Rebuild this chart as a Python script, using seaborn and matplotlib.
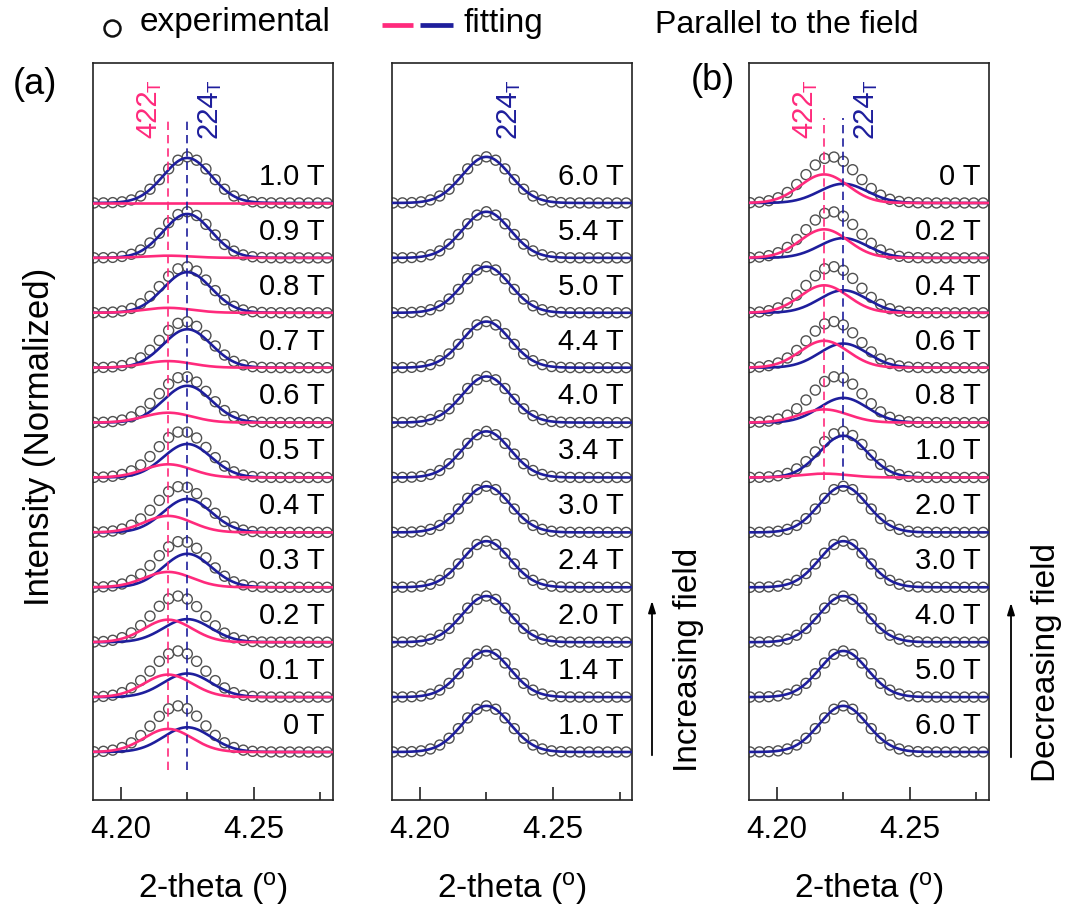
import numpy as np
import pandas as pd
import matplotlib
matplotlib.use('Agg')
import matplotlib.pyplot as plt
import seaborn as sns
from matplotlib.lines import Line2D

sns.set_style('ticks')
plt.rcParams['font.family'] = ['Liberation Sans', 'DejaVu Sans']
plt.rcParams['mathtext.default'] = 'regular'
plt.rcParams['text.color'] = 'black'
plt.rcParams['axes.labelcolor'] = 'black'
plt.rcParams['xtick.color'] = 'black'

# measured 2-theta positions (deg)
two_theta = [4.1900, 4.1935, 4.1970, 4.2005, 4.2040, 4.2075, 4.2110, 4.2145,
             4.2180, 4.2215, 4.2250, 4.2285, 4.2320, 4.2355, 4.2390, 4.2425,
             4.2460, 4.2495, 4.2530, 4.2565, 4.2600, 4.2635, 4.2670, 4.2705,
             4.2740, 4.2775]

# fitted peak parameters
peak_422 = 4.2178
peak_224 = 4.2250
peak_sigma = 0.0090
exp_peak = 0.84   # normalised height of the experimental profile

# panel (a) - increasing field, bottom -> top
fields_a = ['0 T', '0.1 T', '0.2 T', '0.3 T', '0.4 T', '0.5 T',
            '0.6 T', '0.7 T', '0.8 T', '0.9 T', '1.0 T']
amp422_a = [0.42, 0.41, 0.41, 0.28, 0.30, 0.24, 0.18, 0.12, 0.09, 0.04, 0.00]
amp224_a = [0.45, 0.43, 0.42, 0.61, 0.61, 0.61, 0.67, 0.70, 0.74, 0.80, 0.82]

# middle panel - increasing field, bottom -> top
fields_m = ['1.0 T', '1.4 T', '2.0 T', '2.4 T', '3.0 T', '3.4 T',
            '4.0 T', '4.4 T', '5.0 T', '5.4 T', '6.0 T']
amp422_m = [0.0, 0.0, 0.0, 0.0, 0.0, 0.0, 0.0, 0.0, 0.0, 0.0, 0.0]
amp224_m = [0.84, 0.84, 0.84, 0.84, 0.84, 0.84, 0.84, 0.84, 0.84, 0.84, 0.84]

# panel (b) - decreasing field, bottom -> top
fields_b = ['6.0 T', '5.0 T', '4.0 T', '3.0 T', '2.0 T', '1.0 T',
            '0.8 T', '0.6 T', '0.4 T', '0.2 T', '0 T']
amp422_b = [0.00, 0.00, 0.00, 0.00, 0.00, 0.07, 0.24, 0.49, 0.50, 0.52, 0.52]
amp224_b = [0.84, 0.84, 0.84, 0.84, 0.84, 0.76, 0.45, 0.44, 0.41, 0.36, 0.35]

PINK = '#ff2a7c'
BLUE = '#1e1e9c'
FS = 21


def gauss(x, amp, cen):
    return amp * np.exp(-0.5 * ((np.asarray(x) - cen) / peak_sigma) ** 2)


def hkl_label(ax, x, num, color, side):
    # rotated reflection label with a subscript T at its upper end
    t = ax.text(x, 11.18, num, rotation=90, ha=side, va='bottom',
                color=color, fontsize=FS)
    ax.annotate('T', xy=(1, 1), xycoords=t, xytext=(2, -1.5),
                textcoords='offset points', rotation=90, ha='right',
                va='bottom', color=color, fontsize=13.5)


def draw_panel(ax, fields, a422, a224, show_422, dash_bottom=None):
    xf = np.linspace(4.185, 4.285, 400)
    x_exp = np.array(two_theta)
    for i, lab in enumerate(fields):
        # experimental profile = normalised sum of both phases
        prof = gauss(x_exp, a422[i], peak_422) + gauss(x_exp, a224[i], peak_224)
        dense = gauss(xf, a422[i], peak_422) + gauss(xf, a224[i], peak_224)
        prof = prof / dense.max() * exp_peak
        sns.scatterplot(x=x_exp, y=prof + i, ax=ax, marker='o', s=52,
                        facecolors='none', edgecolor='#505050', linewidth=1.0,
                        zorder=2)
        sns.lineplot(x=xf, y=gauss(xf, a224[i], peak_224) + i, ax=ax,
                     color=BLUE, lw=1.9, estimator=None, zorder=3)
        if show_422[i]:
            sns.lineplot(x=xf, y=gauss(xf, a422[i], peak_422) + i, ax=ax,
                         color=PINK, lw=1.9, estimator=None, zorder=4)
        ax.text(4.2765, i + 0.33, lab, ha='right', va='baseline', fontsize=FS)

    if dash_bottom is not None:
        ax.plot([peak_422, peak_422], [dash_bottom, 11.55], color=PINK,
                lw=1.2, ls=(0, (5, 3)), zorder=5)
        ax.plot([peak_224, peak_224], [dash_bottom, 11.55], color=BLUE,
                lw=1.2, ls=(0, (5, 3)), zorder=5)
        hkl_label(ax, peak_422 - 0.0022, '422', PINK, 'right')
    hkl_label(ax, peak_224 + 0.0026, '224', BLUE, 'left')

    ax.set_xlim(4.1896, 4.2797)
    ax.set_ylim(-0.874, 12.55)
    ax.set_xticks([4.20, 4.25])
    ax.set_xticklabels(['4.20', '4.25'])
    ax.set_xticks([4.225, 4.275], minor=True)
    ax.set_yticks([])
    ax.tick_params(axis='x', which='major', direction='in', length=9.5,
                   width=1.2, labelsize=22.5, pad=11, color='#222222')
    ax.tick_params(axis='x', which='minor', direction='in', length=5.5,
                   width=1.2, color='#222222')
    for sp in ax.spines.values():
        sp.set_visible(True)
        sp.set_linewidth(1.2)
        sp.set_color('#222222')
    ax.set_xlabel(r'2-theta ($^o$)', fontsize=24, labelpad=18)
    ax.set_ylabel('')


fig = plt.figure(figsize=(10.7, 9.1), dpi=100)
ax_a = fig.add_axes([0.0869, 0.1209, 0.2243, 0.8099])
ax_m = fig.add_axes([0.3664, 0.1209, 0.2243, 0.8099])
ax_b = fig.add_axes([0.7000, 0.1209, 0.2243, 0.8099])

draw_panel(ax_a, fields_a, amp422_a, amp224_a, [True] * 11, dash_bottom=-0.33)
draw_panel(ax_m, fields_m, amp422_m, amp224_m, [False] * 11)
draw_panel(ax_b, fields_b, amp422_b, amp224_b, [i >= 5 for i in range(11)],
           dash_bottom=4.95)

# panel tags and axis label
fig.text(35 / 1070, 1 - 84 / 910, '(a)', fontsize=26, ha='center', va='center')
fig.text(713 / 1070, 1 - 80 / 910, '(b)', fontsize=26, ha='center', va='center')
fig.text(40 / 1070, 1 - 437 / 910, 'Intensity (Normalized)', fontsize=25,
         rotation=90, ha='center', va='center')

# legend row
fig.add_artist(Line2D([112 / 1070], [1 - 28 / 910], marker='o', ms=11.5,
                      mfc='none', mec='#111111', mew=1.8, ls='none'))
fig.text(140 / 1070, 1 - 31 / 910, 'experimental', fontsize=24, va='baseline')
fig.add_artist(Line2D([382 / 1070, 413 / 1070], [1 - 25 / 910] * 2,
                      color=PINK, lw=3.4, solid_capstyle='butt'))
fig.add_artist(Line2D([420 / 1070, 453 / 1070], [1 - 25 / 910] * 2,
                      color=BLUE, lw=3.4, solid_capstyle='butt'))
fig.text(463 / 1070, 1 - 32 / 910, 'fitting', fontsize=24, va='baseline')
fig.text(655 / 1070, 1 - 33 / 910, 'Parallel to the field', fontsize=23,
         va='baseline')

# field direction arrows
fig.add_artist(matplotlib.patches.FancyArrowPatch(
    (652 / 1070, 1 - 758 / 910), (652 / 1070, 1 - 598 / 910),
    transform=fig.transFigure, arrowstyle='-|>,head_length=7,head_width=2.2',
    color='black', lw=1.3))
fig.text(688 / 1070, 1 - 660 / 910, 'Increasing field', fontsize=24,
         rotation=90, ha='center', va='center')
fig.add_artist(matplotlib.patches.FancyArrowPatch(
    (1011 / 1070, 1 - 760 / 910), (1011 / 1070, 1 - 600 / 910),
    transform=fig.transFigure, arrowstyle='-|>,head_length=7,head_width=2.2',
    color='black', lw=1.3))
fig.text(1047 / 1070, 1 - 663 / 910, 'Decreasing field', fontsize=24,
         rotation=90, ha='center', va='center')

fig.savefig('out.png', dpi=100)
